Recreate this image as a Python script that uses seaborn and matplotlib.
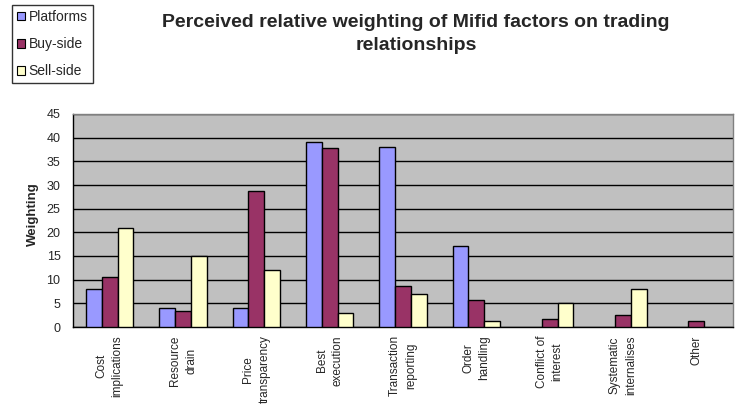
import matplotlib
matplotlib.use("Agg")
import matplotlib.pyplot as plt
import seaborn as sns
import pandas as pd
import numpy as np

factors = ["Cost\nimplications", "Resource\ndrain", "Price\ntransparency", "Best\nexecution",
           "Transaction\nreporting", "Order\nhandling", "Conflict of\ninterest",
           "Systematic\ninternalises", "Other"]
platforms = [8, 4, 4, 39, 38, 17.2, 0, 0, 0]
buy_side = [10.5, 3.3, 28.7, 37.8, 8.6, 5.8, 1.7, 2.5, 1.2]
sell_side = [21, 15, 12, 3, 7, 1.2, 5, 8, 0]
groups = ["Platforms", "Buy-side", "Sell-side"]
colors = ["#9999ff", "#993366", "#ffffcc"]
y_ticks = list(range(0, 50, 5))

df = pd.DataFrame({
    "factor": factors * 3,
    "weighting": platforms + buy_side + sell_side,
    "group": [g for g in groups for _ in factors],
})

sns.set_style("white")
plt.rcParams["font.family"] = ["Liberation Sans", "DejaVu Sans"]

fig = plt.figure(figsize=(7.41, 4.05), dpi=100)
ax = fig.add_axes([73 / 741, 78 / 405, 660 / 741, 213 / 405])
ax.set_facecolor("#c0c0c0")

sns.barplot(data=df, x="factor", y="weighting", hue="group", hue_order=groups,
            palette=colors, edgecolor="black", linewidth=1.0, width=0.645,
            saturation=1, ax=ax, legend=False, zorder=3)

# empty categories get no visible bar outline
for patch in ax.patches:
    if patch.get_height() == 0:
        patch.set_visible(False)

ax.set_ylim(0, 45)
ax.set_xlim(-0.5, len(factors) - 0.5)
ax.set_yticks(y_ticks)
ax.set_yticklabels([str(t) for t in y_ticks], fontsize=9)
ax.yaxis.grid(True, color="black", linewidth=1.0, zorder=0)
ax.set_axisbelow(True)

ax.set_xticks(range(len(factors)))
ax.set_xticklabels(factors, rotation=90, fontsize=8.5, ha="center", va="top",
                   multialignment="center", linespacing=1.45)
ax.set_xticks(np.arange(-0.5, len(factors), 1.0), minor=True)
ax.tick_params(axis="x", which="major", length=0, pad=6)
ax.tick_params(axis="x", which="minor", length=5, width=0.8, color="black", direction="out")
ax.tick_params(axis="y", length=4, width=0.8, color="black", direction="out", pad=5)

ax.set_xlabel("")
ax.set_ylabel("Weighting", fontsize=9.5, fontweight="bold")
ax.yaxis.set_label_coords(-0.052, 0.53)

for side in ["left", "bottom"]:
    ax.spines[side].set_color("black")
    ax.spines[side].set_linewidth(1.0)
for side in ["top", "right"]:
    ax.spines[side].set_color("#808080")
    ax.spines[side].set_linewidth(1.0)

fig.text(416 / 741, 1 - 14 / 405,
         "Perceived relative weighting of Mifid factors on trading\nrelationships",
         ha="center", va="top", fontsize=14, fontweight="bold", linespacing=1.5)

handles = [plt.Rectangle((0, 0), 1, 1, facecolor=c, edgecolor="black", linewidth=0.8) for c in colors]
leg = fig.legend(handles, groups, loc="upper left", bbox_to_anchor=(12 / 741, 1 - 5 / 405),
                 fontsize=10, frameon=True, fancybox=False, edgecolor="black",
                 handlelength=0.6, handleheight=0.6, handletextpad=0.25,
                 labelspacing=0.95, borderpad=0.35, borderaxespad=0)
leg.get_frame().set_linewidth(1.0)

fig.savefig("out.png", dpi=100, facecolor="white")
